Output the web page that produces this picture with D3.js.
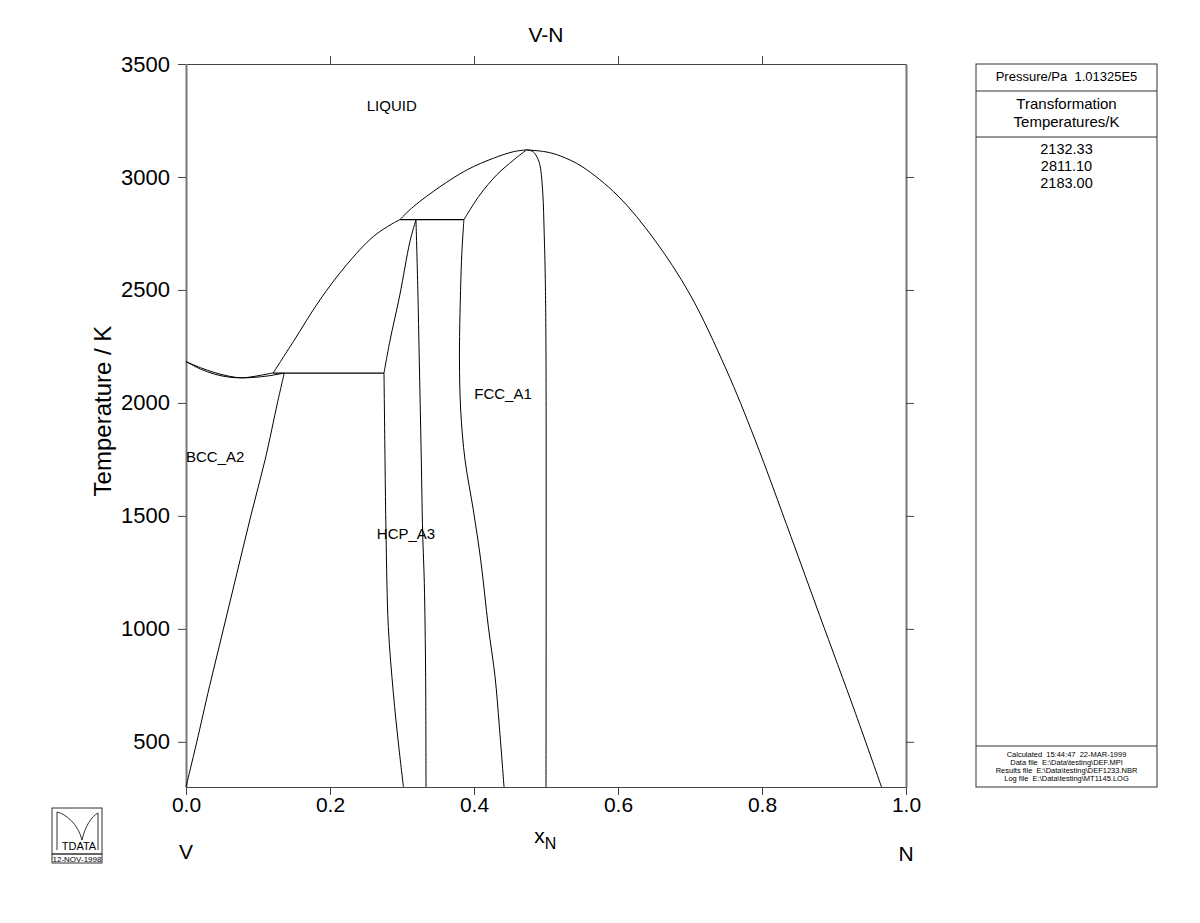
<!DOCTYPE html>
<html><head><meta charset="utf-8">
<script src="https://cdn.jsdelivr.net/npm/d3@7"></script>
<style>body{margin:0;background:#fff}svg{display:block}text{font-family:"Liberation Sans",Arial,sans-serif}</style>
</head><body>
<svg id="chart" width="1200" height="923"></svg>
<script>
// ---- data (x = mole fraction N, T in K) ----
const title = "V-N";
const xTicks = [0, 0.2, 0.4, 0.6, 0.8, 1.0];
const yTicks = [500, 1000, 1500, 2000, 2500, 3000, 3500];
const liquidusV = [[0,2183],[0.02,2156],[0.04,2134],[0.06,2118],[0.077,2111],[0.09,2115],[0.105,2123],[0.121,2133]];
const bccSolidus = [[0,2183],[0.02,2150],[0.04,2127],[0.06,2114],[0.077,2111],[0.095,2113],[0.115,2120],[0.1365,2132]];
const bccSolvus = [[0.1365,2132],[0.127,2000],[0.110,1750],[0.090,1500],[0.071,1250],[0.052,1000],[0.033,750],[0.015,500],[0.006,380],[0,300]];
const hcpLiquidus = [[0.121,2132],[0.149,2271],[0.186,2456],[0.223,2611],[0.260,2736],[0.286,2792],[0.297,2811]];
const invariant2132 = [[0.121,2132],[0.275,2132]];
const invariant2811 = [[0.297,2811],[0.386,2811]];
const hcpSolidus = [[0.3194,2811],[0.311,2714],[0.297,2478],[0.283,2271],[0.275,2132]];
const hcpLeft = [[0.275,2132],[0.2764,1748],[0.2778,1423],[0.281,1010],[0.288,715],[0.295,494],[0.302,300]];
const hcpRight = [[0.3194,2811],[0.322,2500],[0.324,2190],[0.3265,1800],[0.3287,1425],[0.331,1200],[0.3328,800],[0.3333,300]];
const fccLeft = [[0.386,2811],[0.383,2655],[0.3806,2400],[0.3798,2190],[0.3815,1969],[0.3875,1748],[0.399,1527],[0.4093,1305],[0.4199,1010],[0.4292,789],[0.4352,568],[0.4417,300]];
const fccSolidus = [[0.386,2811],[0.408,2920],[0.4315,3009],[0.455,3075],[0.473,3120]];
const fccLiquidus = [[0.297,2811],[0.316,2869],[0.353,2957],[0.390,3031],[0.427,3083],[0.455,3112],[0.473,3120]];
const fccRight = [[0.473,3120],[0.482,3112],[0.488,3085],[0.4917,3050],[0.4955,2930],[0.4975,2750],[0.499,2550],[0.5,2200],[0.5,300]];
const rightLiquidus = [[0.473,3120],[0.50,3111],[0.52,3093],[0.55,3046],[0.60,2916],[0.65,2725],[0.70,2480],[0.75,2150],[0.79,1840],[0.84,1410],[0.88,1060],[0.93,625],[0.966,300]];
const phaseLabels = [["LIQUID",0.251,3290],["BCC_A2",0.0,1738],["HCP_A3",0.265,1398],["FCC_A1",0.4004,2018]];
const panelHeader = ["Pressure/Pa\u00a0\u00a01.01325E5"];
const panelTitle = ["Transformation","Temperatures/K"];
const panelTemps = ["2132.33","2811.10","2183.00"];
const panelFooter = ["Calculated\u00a0\u00a015:44:47\u00a0\u00a022-MAR-1999","Data file\u00a0\u00a0E:\\Data\\testing\\DEF.MPI","Results file\u00a0\u00a0E:\\Data\\testing\\DEF1233.NBR","Log file\u00a0\u00a0E:\\Data\\testing\\MT1145.LOG"];
const logoDate = "12-NOV-1998";

// ---- layout ----
const svg = d3.select("#chart");
const L = 186, R = 906, T = 64, B = 787;
const x = d3.scaleLinear().domain([0,1]).range([L,R]);
const y = d3.scaleLinear().domain([300,3500]).range([B,T]);

// axes
const fmtX = d3.format(".1f");
svg.append("g").attr("transform",`translate(0,${B})`)
  .call(d3.axisBottom(x).tickValues(xTicks).tickFormat(fmtX).tickSize(8).tickPadding(2))
  .call(g=>{g.select(".domain").attr("stroke","#444");g.selectAll(".tick line").attr("stroke","#444");
    g.selectAll("text").attr("font-size",21).attr("fill","#000").attr("font-family","Liberation Sans, Arial");});
svg.append("g").attr("transform",`translate(0,${T})`)
  .call(d3.axisTop(x).tickValues(xTicks.slice(1,-1)).tickFormat("").tickSize(8).tickSizeOuter(0))
  .call(g=>{g.select(".domain").attr("stroke","#444");g.selectAll(".tick line").attr("stroke","#444");});
svg.append("g").attr("transform",`translate(${L},0)`)
  .call(d3.axisLeft(y).tickValues(yTicks).tickFormat(d3.format("d")).tickSize(8).tickSizeOuter(0).tickPadding(8))
  .call(g=>{g.select(".domain").attr("stroke","#777").attr("stroke-width",2);g.selectAll(".tick line").attr("stroke","#444");
    g.selectAll("text").attr("font-size",22).attr("fill","#000").attr("font-family","Liberation Sans, Arial");});
svg.append("g").attr("transform",`translate(${R},0)`)
  .call(d3.axisRight(y).tickValues(yTicks.slice(0,-1)).tickFormat("").tickSize(8).tickSizeOuter(0))
  .call(g=>{g.select(".domain").attr("stroke","#777").attr("stroke-width",2);g.selectAll(".tick line").attr("stroke","#444");});

// boundaries
const curve = d3.line().x(d=>x(d[0])).y(d=>y(d[1])).curve(d3.curveCatmullRom.alpha(0.5));
const straight = d3.line().x(d=>x(d[0])).y(d=>y(d[1]));
const curves = [liquidusV,bccSolidus,bccSolvus,hcpLiquidus,hcpSolidus,hcpLeft,hcpRight,fccLeft,fccSolidus,fccLiquidus,fccRight,rightLiquidus];
svg.append("g").selectAll("path").data(curves).join("path")
  .attr("d",curve).attr("fill","none").attr("stroke","#000").attr("stroke-width",1);
svg.append("g").selectAll("path").data([invariant2132,invariant2811]).join("path")
  .attr("d",straight).attr("fill","none").attr("stroke","#000").attr("stroke-width",1.2);

// phase labels
svg.append("g").selectAll("text").data(phaseLabels).join("text")
  .attr("x",d=>x(d[1])).attr("y",d=>y(d[2])).attr("font-size",15).text(d=>d[0]);

// titles
svg.append("text").attr("x",(L+R)/2).attr("y",42).attr("text-anchor","middle").attr("font-size",21).text(title);
svg.append("text").attr("transform",`translate(111,411) rotate(-90)`).attr("text-anchor","middle").attr("font-size",24).text("Temperature / K");
const xl = svg.append("text").attr("x",x(0.499)).attr("y",843).attr("text-anchor","middle").attr("font-size",21);
xl.append("tspan").text("x");
xl.append("tspan").attr("font-size",16).attr("dy",6).text("N");
svg.append("text").attr("x",x(0)).attr("y",859).attr("text-anchor","middle").attr("font-size",21).text("V");
svg.append("text").attr("x",x(1)).attr("y",861).attr("text-anchor","middle").attr("font-size",21).text("N");

// right panel
const P = svg.append("g");
const px0 = 976, px1 = 1157, pc = (px0+px1)/2;
P.append("rect").attr("x",px0).attr("y",T).attr("width",px1-px0).attr("height",B-T).attr("fill","none").attr("stroke","#333");
[91,137,746].forEach(v=>P.append("line").attr("x1",px0).attr("x2",px1).attr("y1",v).attr("y2",v).attr("stroke","#333"));
P.append("text").attr("x",pc).attr("y",81).attr("text-anchor","middle").attr("font-size",13).text(panelHeader[0]);
P.selectAll(".pt").data(panelTitle).join("text").attr("x",pc).attr("y",(d,i)=>109+i*18).attr("text-anchor","middle").attr("font-size",15).text(d=>d);
P.selectAll(".pv").data(panelTemps).join("text").attr("x",pc).attr("y",(d,i)=>154+i*17).attr("text-anchor","middle").attr("font-size",14.5).text(d=>d);
P.selectAll(".pf").data(panelFooter).join("text").attr("x",pc).attr("y",(d,i)=>757+i*8).attr("text-anchor","middle").attr("font-size",7.5).text(d=>d);

// logo
const G = svg.append("g").attr("transform","translate(52,808)");
G.append("rect").attr("x",0).attr("y",0).attr("width",50).attr("height",46).attr("fill","none").attr("stroke","#333");
G.append("path").attr("d","M5,4 L5,42 M5,4 C14,6 26,16 30,32 M30,32 C33,18 40,8 46,5 L46,42").attr("fill","none").attr("stroke","#333");
G.append("text").attr("x",27).attr("y",42).attr("text-anchor","middle").attr("font-size",11).text("TDATA");
G.append("rect").attr("x",0).attr("y",46).attr("width",50).attr("height",9).attr("fill","none").attr("stroke","#333");
G.append("text").attr("x",25).attr("y",54).attr("text-anchor","middle").attr("font-size",8).text(logoDate);
</script>
</body></html>
